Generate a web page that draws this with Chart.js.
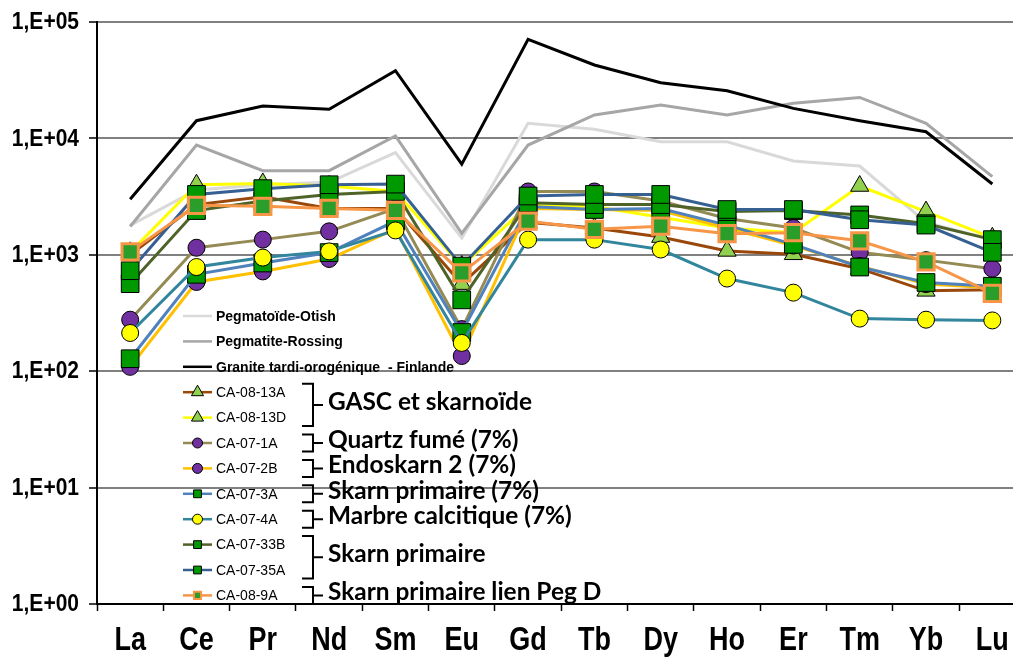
<!DOCTYPE html>
<html>
<head>
<meta charset="utf-8">
<script src="https://cdn.jsdelivr.net/npm/chart.js@4.4.1/dist/chart.umd.min.js"></script>
<style>
html,body{margin:0;padding:0;overflow:hidden;background:#fff;}
#wrap{width:1040px;height:657px;}
</style>
</head>
<body>
<div id="wrap"><canvas id="c" width="1040" height="657"></canvas></div>
<script>
// ---------- DATA ----------
const elements = ['La','Ce','Pr','Nd','Sm','Eu','Gd','Tb','Dy','Ho','Er','Tm','Yb','Lu'];
const yTickValues = [1, 10, 100, 1000, 10000, 100000];
const yTickLabels = ['1,E+00','1,E+01','1,E+02','1,E+03','1,E+04','1,E+05'];

const otish    = [1790, 3600, 4000, 4200, 7540, 1390, 13500, 11970, 9370, 9370, 6400, 5790, 1900, 1350];
const rossing  = [1750, 8770, 5280, 5280, 10500, 1530, 8770, 15900, 19400, 15900, 20000, 22500, 13500, 4690];
const granite  = [3000, 14200, 19000, 17800, 38200, 6000, 71000, 42700, 30100, 25700, 18100, 14200, 11400, 4060];

const ca0813A = [1000, 2700, 3150, 2500, 2500, 560, 1900, 1700, 1420, 1080, 1010, 760, 490, 500];
const ca0813D = [1050, 4000, 4100, 3900, 3500, 800, 2650, 2600, 2100, 1700, 1550, 3900, 2350, 1400];
const ca071A  = [277, 1150, 1350, 1590, 2500, 230, 3500, 3500, 2900, 2050, 1700, 1050, 900, 760];
const ca072B  = [109, 584, 720, 920, 1670, 135, 2500, 2450, 2400, 1700, 1200, 800, 560, 520];
const ca073A  = [128, 680, 850, 1045, 1950, 215, 2600, 2450, 2500, 1800, 1230, 785, 578, 537];
const ca074A  = [213, 785, 946, 1070, 1620, 175, 1350, 1350, 1110, 625, 473, 283, 277, 273];
const ca0733B = [565, 2400, 2900, 3300, 3500, 410, 2800, 2700, 2700, 2350, 2400, 2200, 1850, 1350];
const ca0735A = [730, 3300, 3700, 4000, 4050, 800, 3200, 3300, 3300, 2450, 2450, 2000, 1800, 1050];
const ca089A  = [1060, 2660, 2610, 2500, 2410, 700, 1950, 1655, 1760, 1520, 1550, 1320, 870, 466];

const refNames    = ['Pegmatoïde-Otish', 'Pegmatite-Rossing', 'Granite tardi-orogénique  - Finlande'];
const sampleNames = ['CA-08-13A','CA-08-13D','CA-07-1A','CA-07-2B','CA-07-3A','CA-07-4A','CA-07-33B','CA-07-35A','CA-08-9A'];
const groupLabels = ['GASC et skarnoïde','Quartz fumé (7%)','Endoskarn 2 (7%)','Skarn primaire (7%)','Marbre calcitique (7%)','Skarn primaire','Skarn primaire lien Peg D'];
const groupRows   = [[0,1],[2,2],[3,3],[4,4],[5,5],[6,7],[8,8]];

// ---------- STYLES ----------
const GREEN_SQ = '#009900', PURPLE = '#7030A0', YEL = '#FFFF00', TRI = '#92D050';
const AXIS_FONT = '"Liberation Sans", Arial, sans-serif';
function refDs(label, data, color){
  return {label, data, borderColor: color, backgroundColor: color, borderWidth: 3, pointRadius: 0, pointHoverRadius: 0, tension: 0, isRef: true};
}
function smpDs(label, data, line, style, fill, radius, bcol, bw, legR){
  return {label, data, borderColor: line, backgroundColor: fill, borderWidth: 3, tension: 0,
    pointStyle: style, pointRadius: radius, pointHoverRadius: radius, pointBackgroundColor: fill,
    pointBorderColor: bcol, pointBorderWidth: bw, legR};
}
const datasets = [
  refDs(refNames[0], otish, '#D9D9D9'),
  refDs(refNames[1], rossing, '#A6A6A6'),
  refDs(refNames[2], granite, '#000000'),
  smpDs(sampleNames[0], ca0813A, '#99480A', 'triangle', TRI, 10.5, '#000', 1, 7),
  smpDs(sampleNames[1], ca0813D, '#FFFF00', 'triangle', TRI, 10.5, '#000', 1, 7),
  smpDs(sampleNames[2], ca071A,  '#948A54', 'circle', PURPLE, 8.5, '#000', 1, 5),
  smpDs(sampleNames[3], ca072B,  '#FFC000', 'circle', PURPLE, 8.5, '#000', 1, 5),
  smpDs(sampleNames[4], ca073A,  '#4F81BD', 'rect', GREEN_SQ, 12.5, '#000', 1, 5.5),
  smpDs(sampleNames[5], ca074A,  '#31859C', 'circle', YEL, 8.5, '#000', 1, 5),
  smpDs(sampleNames[6], ca0733B, '#4F6228', 'rect', GREEN_SQ, 12.5, '#000', 1, 5.5),
  smpDs(sampleNames[7], ca0735A, '#376092', 'rect', GREEN_SQ, 12.5, '#000', 1, 5.5),
  smpDs(sampleNames[8], ca089A,  '#F79646', 'rect', '#2A9D2A', 11.5, '#F79646', 3, 5),
];
datasets.forEach((d,i)=>{ d.order = 100 - i; });

// ---------- AXIS LABELS (stretched like the original) ----------
const axisLabelPlugin = {
  id: 'axisLabels',
  afterDraw(chart){
    const ctx = chart.ctx, xs = chart.scales.x, ys = chart.scales.y;
    ctx.save();
    ctx.fillStyle = '#000';
    ctx.textBaseline = 'middle';
    ctx.textAlign = 'center';
    ctx.font = 'bold 27px ' + AXIS_FONT;
    elements.forEach((lab, i) => {
      ctx.save(); ctx.translate(xs.getPixelForValue(i), 641); ctx.scale(1, 1.2);
      ctx.fillText(lab, 0, 0); ctx.restore();
    });
    ctx.textAlign = 'right';
    ctx.font = 'bold 21px ' + AXIS_FONT;
    yTickValues.forEach((v, i) => {
      ctx.save(); ctx.translate(79, ys.getPixelForValue(v) + 0.5); ctx.scale(1, 1.15);
      ctx.fillText(yTickLabels[i], 0, 0); ctx.restore();
    });
    ctx.restore();
  }
};

// ---------- LEGEND PLUGIN ----------
const legendPlugin = {
  id: 'customLegend',
  afterDatasetsDraw(chart){
    const ctx = chart.ctx;
    const rowY0 = 316, rowDy = 25.4, lx0 = 183, lx1 = 212, tx = 216;
    ctx.save();
    chart.data.datasets.forEach((d,i)=>{
      const y = rowY0 + rowDy*i;
      ctx.strokeStyle = d.borderColor; ctx.lineWidth = 2.5;
      ctx.beginPath(); ctx.moveTo(lx0, y); ctx.lineTo(lx1, y); ctx.stroke();
      if (!d.isRef){
        ctx.fillStyle = d.pointBackgroundColor; ctx.strokeStyle = d.pointBorderColor;
        ctx.lineWidth = d.pointBorderWidth > 1 ? 2 : 1;
        Chart.helpers.drawPoint(ctx, {pointStyle: d.pointStyle, radius: d.legR, rotation: 0, borderWidth: ctx.lineWidth}, (lx0+lx1)/2, y);
      }
      ctx.fillStyle = '#000';
      ctx.textBaseline = 'middle'; ctx.textAlign = 'left';
      ctx.font = d.isRef ? 'bold 14px ' + AXIS_FONT : '14px ' + AXIS_FONT;
      ctx.fillText(d.label, tx, y + 1);
    });
    // brackets and group labels
    ctx.font = 'bold 100px Lato, "Open Sans", sans-serif';
    const w100 = ctx.measureText(groupLabels[0]).width;
    const fs = 100 * 204 / w100;
    ctx.font = 'bold ' + fs.toFixed(2) + 'px Lato, "Open Sans", sans-serif';
    const nRef = 3;
    const bx0 = 302, bxv = 313, bxr = 323, tx2 = 328;
    ctx.strokeStyle = '#000'; ctx.lineWidth = 2; ctx.fillStyle = '#000';
    groupRows.forEach((r,k)=>{
      const yTop = rowY0 + rowDy*(nRef + r[0]) - 8.5;
      const yBot = rowY0 + rowDy*(nRef + r[1]) + 8.5;
      const ym = (yTop + yBot)/2;
      ctx.beginPath();
      ctx.moveTo(bx0, yTop); ctx.lineTo(bxv, yTop); ctx.lineTo(bxv, yBot); ctx.lineTo(bx0, yBot);
      ctx.moveTo(bxv, ym); ctx.lineTo(bxr, ym);
      ctx.stroke();
      ctx.fillText(groupLabels[k], tx2, ym - 3);
    });
    ctx.restore();
  }
};

// ---------- CHART ----------
new Chart(document.getElementById('c'), {
  type: 'line',
  data: { labels: elements, datasets },
  options: {
    responsive: false, animation: false,
    layout: { padding: { top: 22, right: 14, left: 0, bottom: 0 } },
    plugins: { legend: { display: false }, tooltip: { enabled: false } },
    scales: {
      x: {
        type: 'category', offset: true,
        grid: { offset: true, drawOnChartArea: false, drawTicks: true, tickLength: 7, tickColor: '#000', color: '#000', tickWidth: 1.5 },
        border: { color: '#000', width: 2 },
        ticks: { display: false },
        afterFit(s){ s.height = 53; }
      },
      y: {
        type: 'logarithmic', min: 1, max: 100000,
        afterBuildTicks(s){ s.ticks = yTickValues.map(v => ({ value: v, major: true })); },
        grid: { color: '#808080', lineWidth: 2, tickLength: 8, tickColor: '#000', tickWidth: 1.5 },
        border: { color: '#000', width: 2 },
        ticks: { display: false },
        afterFit(s){ s.width = 97; }
      }
    }
  },
  plugins: [legendPlugin, axisLabelPlugin]
});
</script>
</body>
</html>
